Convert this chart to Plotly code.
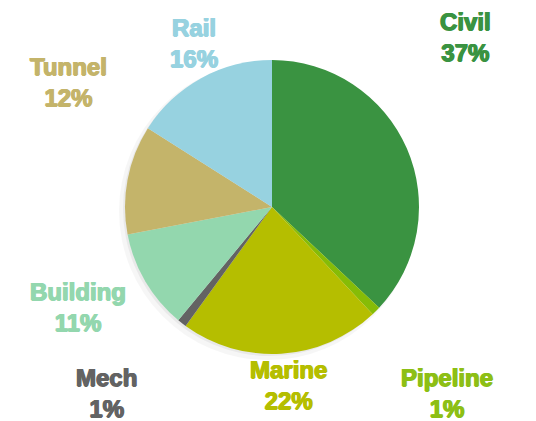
import plotly.graph_objects as go

categories = ["Civil", "Pipeline", "Marine", "Mech", "Building", "Tunnel", "Rail"]
values = [37, 1, 22, 1, 11, 12, 16]
colors = ["#3A9341", "#86BC06", "#B5BE00", "#636363", "#93D7AE", "#C4B46A", "#97D2E0"]
label_colors = ["#3A9341", "#8DBF15", "#B5BE00", "#636363", "#93D7AE", "#C4B46A", "#97D2E0"]

# label anchor positions in pixels (layout only)
label_pos = [(465, 37), (447, 393), (288, 385), (106, 393), (78, 307), (68, 82), (194, 43)]

W, H = 536, 421
cx, cy, r = 272, 207, 147

fig = go.Figure()
# soft shadow (lower-left)
for dx, dy, a, dr in [(-4, 4, 0.035, 2), (-2, 2, 0.05, 0)]:
    fig.add_trace(go.Pie(
        values=[sum(values)], marker=dict(colors=[f"rgba(0,0,0,{a})"], line=dict(width=0)),
        textinfo="none", hoverinfo="skip", sort=False, showlegend=False,
        domain=dict(x=[(cx + dx - r - dr) / W, (cx + dx + r + dr) / W],
                    y=[(H - cy - dy - r - dr) / H, (H - cy - dy + r + dr) / H]),
    ))
fig.add_trace(go.Pie(
    labels=categories, values=values, sort=False, direction="clockwise", rotation=0,
    marker=dict(colors=colors, line=dict(width=0)),
    textinfo="none", showlegend=False,
    domain=dict(x=[(cx - r) / W, (cx + r) / W], y=[(H - cy - r) / H, (H - cy + r) / H]),
))

total = sum(values)
for cat, v, col, (px, py) in zip(categories, values, label_colors, label_pos):
    fig.add_annotation(
        x=px / W, y=1 - py / H, xref="paper", yref="paper", showarrow=False,
        text=f"{cat}<br>{round(100 * v / total)}%", align="center",
        font=dict(family="Liberation Sans, Arial", size=24, color=col, weight="bold",
                  shadow=f"0.7px 0 0 {col}, -0.7px 0 0 {col}, 0 0.5px 0 {col}"),
        xanchor="center", yanchor="middle",
    )

fig.update_layout(width=W, height=H, margin=dict(l=0, r=0, t=0, b=0),
                  paper_bgcolor="white", plot_bgcolor="white")
fig.write_html("out.html")
